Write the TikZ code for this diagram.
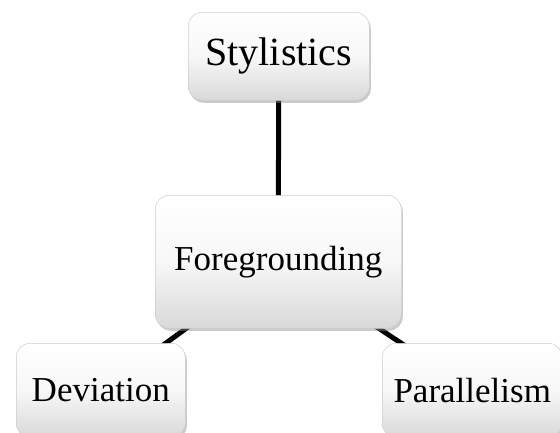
\documentclass[tikz,border=0pt]{standalone}
\usepackage{fontspec}
\setmainfont{Liberation Serif}
\usetikzlibrary{shadows,backgrounds}
\begin{document}
\begin{tikzpicture}[x=1pt,y=-1pt,
  box/.style={draw=gray!40, line width=0.5pt, rounded corners=14pt,
    top color=white, bottom color=gray!30, middle color=white!94!gray,
    drop shadow={opacity=0.45, shadow xshift=1.5pt, shadow yshift=-2.5pt, fill=gray!90},
    inner sep=0pt, anchor=north west, font=\fontsize{35}{40}\selectfont},
  link/.style={line width=5pt, black}]
\useasboundingbox (0,0) rectangle (560,432);
\node[box, minimum width=181pt, minimum height=88pt, font=\fontsize{40}{46}\selectfont] (sty) at (188,12) {Stylistics};
\node[box, minimum width=246pt, minimum height=133pt] (fg) at (155,195) {Foregrounding};
\node[box, minimum width=169pt, minimum height=94pt] (dev) at (16,343) {Deviation};
\node[box, minimum width=180pt, minimum height=94pt] (par) at (382,343) {Parallelism};
\begin{scope}[on background layer]
\draw[link] (sty.center) -- (fg.center);
\draw[link] (fg.center) -- (dev.center);
\draw[link] (fg.center) -- (par.center);
\end{scope}
\end{tikzpicture}
\end{document}
